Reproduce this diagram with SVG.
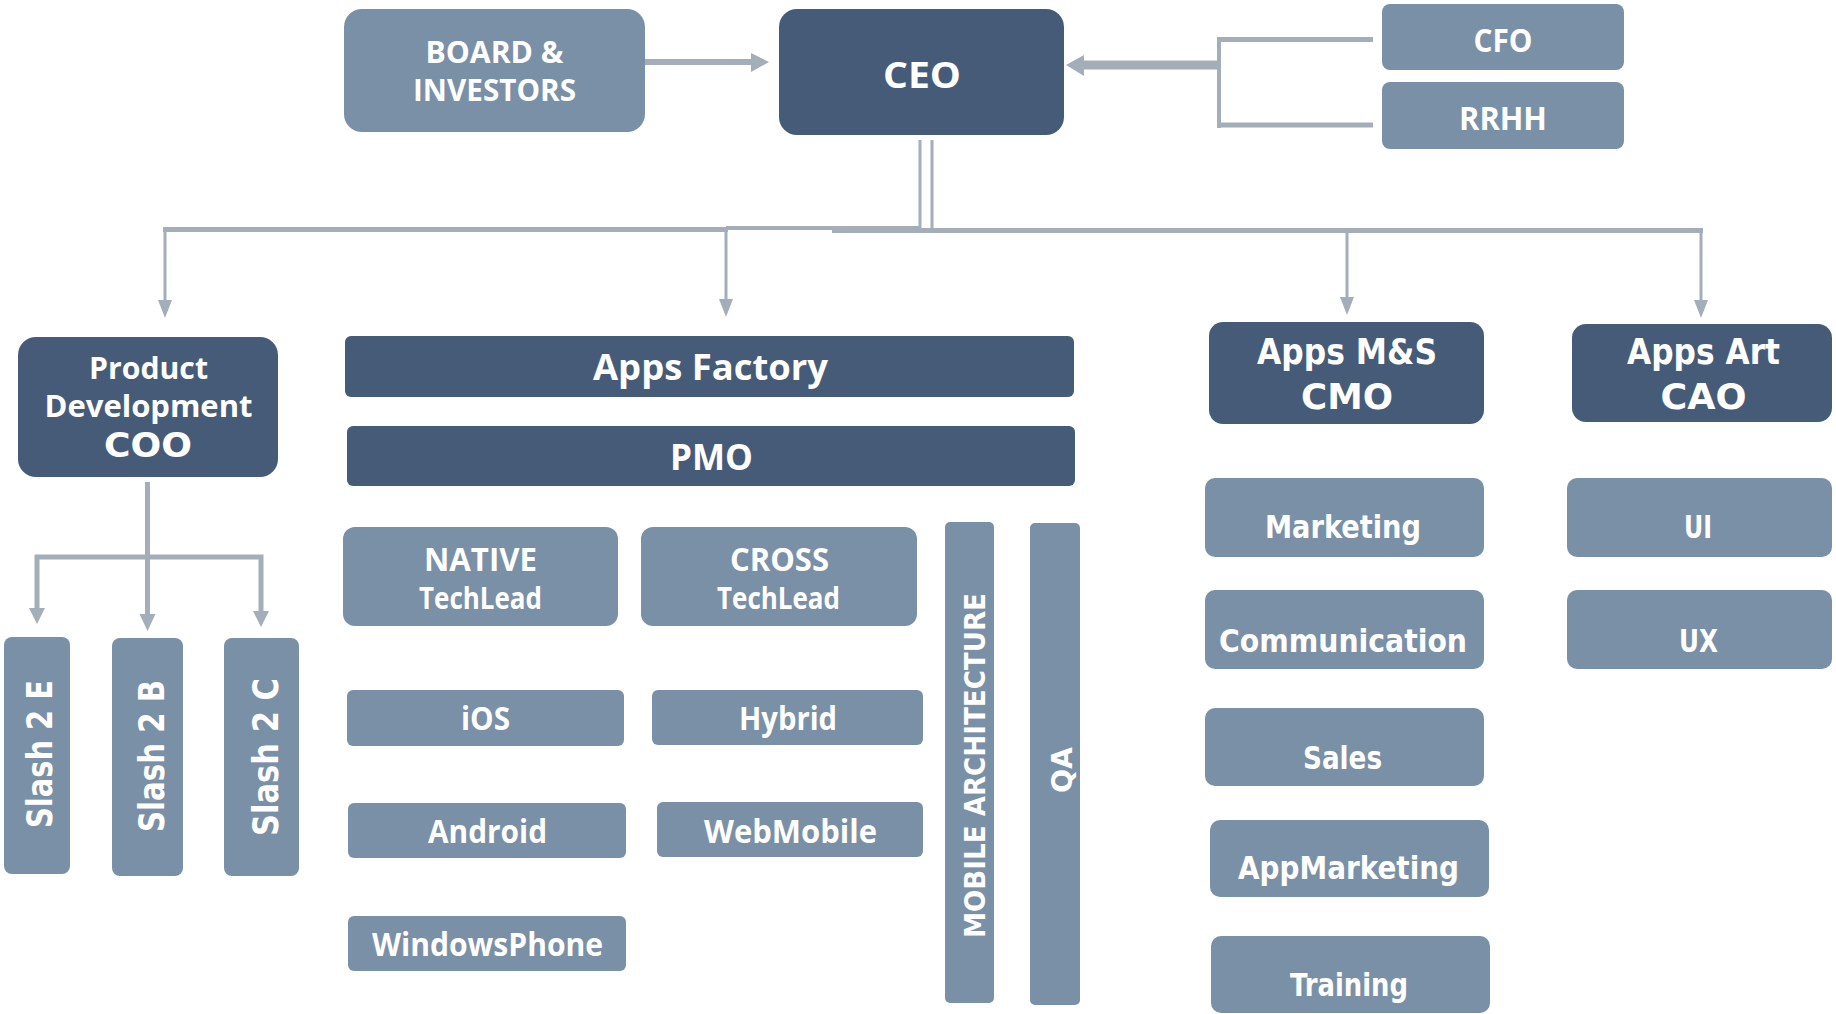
<svg xmlns="http://www.w3.org/2000/svg" width="1836" height="1014" viewBox="0 0 1836 1014">
<style>
.dk{fill:#465B77}
.lt{fill:#7A90A7}
.cn{stroke:#A3AEB8;fill:none}
.ah{fill:#A3AEB8}
text{fill:#ffffff;text-anchor:middle}
.tw{font-family:"Open Sans","DejaVu Sans Condensed",sans-serif;font-weight:700}
.cg{font-family:"DejaVu Sans","Liberation Sans",sans-serif;font-weight:700}
</style>
<rect width="1836" height="1014" fill="#ffffff"/>
<g id="connectors">
  <line class="cn" x1="645" y1="62" x2="753" y2="62" stroke-width="6"/>
  <polygon class="ah" points="751,53 769,62 751,72"/>
  <line class="cn" x1="1081" y1="65" x2="1221" y2="65" stroke-width="9"/>
  <polygon class="ah" points="1084,55 1066,65 1084,76"/>
  <line class="cn" x1="1219" y1="37" x2="1219" y2="128" stroke-width="4"/>
  <line class="cn" x1="1217" y1="39.5" x2="1373" y2="39.5" stroke-width="5"/>
  <line class="cn" x1="1217" y1="125" x2="1373" y2="125" stroke-width="5"/>
  <line class="cn" x1="920" y1="140" x2="920" y2="228" stroke-width="3"/>
  <line class="cn" x1="932" y1="140" x2="932" y2="228" stroke-width="3"/>
  <line class="cn" x1="163" y1="229.5" x2="728" y2="229.5" stroke-width="5"/>
  <line class="cn" x1="726" y1="228" x2="920" y2="228" stroke-width="4"/>
  <line class="cn" x1="832" y1="230.5" x2="1703" y2="230.5" stroke-width="5"/>
  <line class="cn" x1="165" y1="230" x2="165" y2="304" stroke-width="3"/>
  <polygon class="ah" points="158,300 172,300 165,318"/>
  <line class="cn" x1="726" y1="228" x2="726" y2="303" stroke-width="3"/>
  <polygon class="ah" points="719,299 733,299 726,317"/>
  <line class="cn" x1="1347" y1="231" x2="1347" y2="301" stroke-width="3"/>
  <polygon class="ah" points="1340,297 1354,297 1347,315"/>
  <line class="cn" x1="1701" y1="231" x2="1701" y2="304" stroke-width="3"/>
  <polygon class="ah" points="1694,300 1708,300 1701,318"/>
  <line class="cn" x1="147.5" y1="482" x2="147.5" y2="616" stroke-width="5"/>
  <polyline class="cn" points="37,612 37,557 261,557 261,614" stroke-width="5"/>
  <polygon class="ah" points="29,608 45,608 37,624"/>
  <polygon class="ah" points="139.5,614 155.5,614 147.5,631"/>
  <polygon class="ah" points="253,611 269,611 261,627"/>
</g>
<g id="board"><rect class="lt" x="344" y="9" width="301" height="123" rx="18"/>
  <text class="tw" x="494.5" y="63" font-size="30" textLength="138" lengthAdjust="spacingAndGlyphs">BOARD &amp;</text>
  <text class="tw" x="494.5" y="101" font-size="30" textLength="163" lengthAdjust="spacingAndGlyphs">INVESTORS</text></g>
<g id="ceo"><rect class="dk" x="779" y="9" width="285" height="126" rx="18"/>
  <text class="tw" x="922" y="88" font-size="36" textLength="78" lengthAdjust="spacingAndGlyphs">CEO</text></g>
<g id="cfo"><rect class="lt" x="1382" y="4" width="242" height="66" rx="8"/>
  <text class="tw" x="1503" y="52" font-size="33" textLength="59" lengthAdjust="spacingAndGlyphs">CFO</text></g>
<g id="rrhh"><rect class="lt" x="1382" y="82" width="242" height="67" rx="8"/>
  <text class="tw" x="1503" y="130" font-size="33" textLength="88" lengthAdjust="spacingAndGlyphs">RRHH</text></g>
<g id="coo"><rect class="dk" x="18" y="337" width="260" height="140" rx="18"/>
  <text class="tw" x="148.5" y="379" font-size="30" textLength="119" lengthAdjust="spacingAndGlyphs">Product</text>
  <text class="tw" x="148.5" y="417" font-size="30" textLength="208" lengthAdjust="spacingAndGlyphs">Development</text>
  <text class="cg" x="148" y="457" font-size="34" textLength="88" lengthAdjust="spacingAndGlyphs">COO</text></g>
<g id="slash2e"><rect class="lt" x="4" y="637" width="66" height="237" rx="8"/>
  <text class="cg" transform="translate(52,754) rotate(-90)" font-size="36" textLength="148" lengthAdjust="spacingAndGlyphs">Slash 2 E</text></g>
<g id="slash2b"><rect class="lt" x="112" y="638" width="71" height="238" rx="8"/>
  <text class="cg" transform="translate(164,756) rotate(-90)" font-size="36" textLength="152" lengthAdjust="spacingAndGlyphs">Slash 2 B</text></g>
<g id="slash2c"><rect class="lt" x="224" y="638" width="75" height="238" rx="8"/>
  <text class="cg" transform="translate(278,757) rotate(-90)" font-size="36" textLength="158" lengthAdjust="spacingAndGlyphs">Slash 2 C</text></g>
<g id="appsfactory"><rect class="dk" x="345" y="336" width="729" height="61" rx="6"/>
  <text class="tw" x="710.5" y="380" font-size="35" textLength="235" lengthAdjust="spacingAndGlyphs">Apps Factory</text></g>
<g id="pmo"><rect class="dk" x="347" y="426" width="728" height="60" rx="6"/>
  <text class="tw" x="711.5" y="470" font-size="35" textLength="83" lengthAdjust="spacingAndGlyphs">PMO</text></g>
<g id="native"><rect class="lt" x="343" y="527" width="275" height="99" rx="12"/>
  <text class="tw" x="480.5" y="571" font-size="33" textLength="113" lengthAdjust="spacingAndGlyphs">NATIVE</text>
  <text class="tw" x="480.5" y="609" font-size="30" textLength="123" lengthAdjust="spacingAndGlyphs">TechLead</text></g>
<g id="cross"><rect class="lt" x="641" y="527" width="276" height="99" rx="12"/>
  <text class="tw" x="779.5" y="571" font-size="33" textLength="99" lengthAdjust="spacingAndGlyphs">CROSS</text>
  <text class="tw" x="778.5" y="609" font-size="30" textLength="123" lengthAdjust="spacingAndGlyphs">TechLead</text></g>
<g id="ios"><rect class="lt" x="347" y="690" width="277" height="56" rx="6"/>
  <text class="tw" x="485.5" y="730" font-size="33" textLength="49" lengthAdjust="spacingAndGlyphs">iOS</text></g>
<g id="hybrid"><rect class="lt" x="652" y="690" width="271" height="55" rx="6"/>
  <text class="tw" x="788" y="730" font-size="33" textLength="98" lengthAdjust="spacingAndGlyphs">Hybrid</text></g>
<g id="android"><rect class="lt" x="348" y="803" width="278" height="55" rx="6"/>
  <text class="tw" x="487.5" y="843" font-size="33" textLength="119" lengthAdjust="spacingAndGlyphs">Android</text></g>
<g id="webmobile"><rect class="lt" x="657" y="802" width="266" height="55" rx="6"/>
  <text class="tw" x="790.5" y="843" font-size="33" textLength="173" lengthAdjust="spacingAndGlyphs">WebMobile</text></g>
<g id="windowsphone"><rect class="lt" x="348" y="916" width="278" height="55" rx="6"/>
  <text class="tw" x="487.5" y="956" font-size="33" textLength="231" lengthAdjust="spacingAndGlyphs">WindowsPhone</text></g>
<g id="mobilearch"><rect class="lt" x="945" y="522" width="49" height="481" rx="5"/>
  <text class="cg" transform="translate(985,765.5) rotate(-90)" font-size="28" textLength="345" lengthAdjust="spacingAndGlyphs">MOBILE ARCHITECTURE</text></g>
<g id="qa"><rect class="lt" x="1030" y="523" width="50" height="482" rx="5"/>
  <text class="cg" transform="translate(1072,770) rotate(-90)" font-size="29" textLength="46" lengthAdjust="spacingAndGlyphs">QA</text></g>
<g id="cmo"><rect class="dk" x="1209" y="322" width="275" height="102" rx="14"/>
  <text class="cg" x="1347" y="364" font-size="35" textLength="180" lengthAdjust="spacingAndGlyphs">Apps M&amp;S</text>
  <text class="cg" x="1347" y="409" font-size="35" textLength="92" lengthAdjust="spacingAndGlyphs">CMO</text></g>
<g id="cao"><rect class="dk" x="1572" y="324" width="260" height="98" rx="14"/>
  <text class="cg" x="1703.5" y="364" font-size="35" textLength="153" lengthAdjust="spacingAndGlyphs">Apps Art</text>
  <text class="cg" x="1703.5" y="409" font-size="35" textLength="86" lengthAdjust="spacingAndGlyphs">CAO</text></g>
<g id="marketing"><rect class="lt" x="1205" y="478" width="279" height="79" rx="10"/>
  <text class="cg" x="1343" y="538" font-size="32" textLength="156" lengthAdjust="spacingAndGlyphs">Marketing</text></g>
<g id="communication"><rect class="lt" x="1205" y="590" width="279" height="79" rx="10"/>
  <text class="cg" x="1343" y="652" font-size="32" textLength="248" lengthAdjust="spacingAndGlyphs">Communication</text></g>
<g id="sales"><rect class="lt" x="1205" y="708" width="279" height="78" rx="10"/>
  <text class="cg" x="1342.5" y="769" font-size="32" textLength="79" lengthAdjust="spacingAndGlyphs">Sales</text></g>
<g id="appmarketing"><rect class="lt" x="1210" y="820" width="279" height="77" rx="10"/>
  <text class="cg" x="1348.5" y="879" font-size="32" textLength="221" lengthAdjust="spacingAndGlyphs">AppMarketing</text></g>
<g id="training"><rect class="lt" x="1211" y="936" width="279" height="77" rx="10"/>
  <text class="cg" x="1349" y="996" font-size="32" textLength="118" lengthAdjust="spacingAndGlyphs">Training</text></g>
<g id="ui"><rect class="lt" x="1567" y="478" width="265" height="79" rx="10"/>
  <text class="cg" x="1698" y="538" font-size="32" textLength="28" lengthAdjust="spacingAndGlyphs">UI</text></g>
<g id="ux"><rect class="lt" x="1567" y="590" width="265" height="79" rx="10"/>
  <text class="cg" x="1698.5" y="652" font-size="32" textLength="39" lengthAdjust="spacingAndGlyphs">UX</text></g>
</svg>
